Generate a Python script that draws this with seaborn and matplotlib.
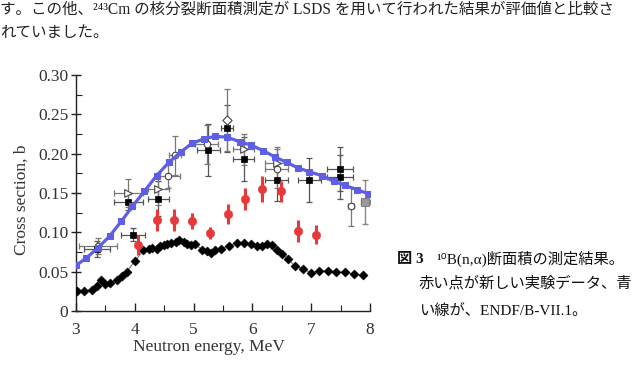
import matplotlib
matplotlib.use("Agg")
import matplotlib.pyplot as plt
import seaborn as sns
import pandas as pd
import numpy as np
from matplotlib.ticker import MultipleLocator, FuncFormatter

# ENDF/B-VII.1 evaluation (blue line with squares)
endf_E = [3.0, 3.17, 3.37, 3.57, 3.77, 3.96, 4.16, 4.37, 4.58, 4.78, 4.97, 5.18, 5.36,
          5.57, 5.79, 5.97, 6.18, 6.38, 6.58, 6.77, 6.97, 7.18, 7.38, 7.57, 7.78, 7.98]
endf_s = [0.058, 0.067, 0.080, 0.095, 0.114, 0.133, 0.152, 0.172, 0.189, 0.202, 0.213, 0.219, 0.222,
          0.221, 0.215, 0.211, 0.204, 0.196, 0.189, 0.182, 0.177, 0.172, 0.165, 0.160, 0.154, 0.149]

# older data set (black diamonds joined by a thin line)
old_E = [3.02, 3.14, 3.28, 3.35, 3.42, 3.50, 3.58, 3.70, 3.79, 3.86, 4.01, 4.14, 4.24, 4.30,
         4.37, 4.43, 4.49, 4.55, 4.62, 4.70, 4.76, 4.83, 4.89, 4.95, 5.03, 5.14, 5.22, 5.29,
         5.36, 5.46, 5.60, 5.74, 5.86, 5.97, 6.07, 6.17, 6.25, 6.33, 6.42, 6.50, 6.61, 6.72,
         6.86, 7.00, 7.13, 7.29, 7.43, 7.57, 7.72, 7.88]
old_s = [0.025, 0.026, 0.027, 0.032, 0.040, 0.034, 0.036, 0.039, 0.044, 0.050, 0.064, 0.077,
         0.079, 0.080, 0.079, 0.082, 0.084, 0.085, 0.086, 0.088, 0.090, 0.088, 0.085, 0.084,
         0.085, 0.078, 0.076, 0.074, 0.077, 0.079, 0.083, 0.086, 0.087, 0.085, 0.083, 0.082,
         0.085, 0.084, 0.078, 0.072, 0.066, 0.057, 0.054, 0.048, 0.051, 0.051, 0.050, 0.049,
         0.047, 0.046]

# new experimental data (red)
new_E = [4.06, 4.37, 4.67, 4.97, 5.28, 5.58, 5.87, 6.17, 6.49, 6.77, 7.08]
new_s = [0.084, 0.116, 0.116, 0.114, 0.099, 0.123, 0.142, 0.155, 0.152, 0.102, 0.097]
new_err = [0.013, 0.014, 0.014, 0.010, 0.008, 0.013, 0.014, 0.016, 0.013, 0.014, 0.012]

# other experiments: filled squares
sq_E = [3.35, 3.89, 3.97, 4.40, 5.25, 5.57, 5.85, 6.41, 6.97, 7.49, 7.49]
sq_s = [0.079, 0.139, 0.097, 0.143, 0.205, 0.232, 0.193, 0.1665, 0.1665, 0.181, 0.170]
sq_xerr = [0.22, 0.25, 0.20, 0.18, 0.20, 0.10, 0.18, 0.20, 0.19, 0.22, 0.22]
sq_yerr = [0.010, 0.010, 0.008, 0.022, 0.033, 0.030, 0.028, 0.027, 0.028, 0.028, 0.028]

# open circles
oc_E = [3.37, 4.57, 4.68, 5.22, 6.41, 7.68]
oc_s = [0.083, 0.171, 0.198, 0.212, 0.181, 0.133]
oc_xerr = [0.32, 0.20, 0.10, 0.20, 0.20, 0.05]
oc_yerr = [0.010, 0.015, 0.025, 0.025, 0.025, 0.025]

# open right triangles
tr_E = [3.89, 4.40, 5.85, 6.41]
tr_s = [0.150, 0.155, 0.2055, 0.188]
tr_xerr = [0.25, 0.18, 0.18, 0.20]
tr_yerr = [0.018, 0.020, 0.020, 0.020]

# open diamond
dm_E = [5.56]
dm_s = [0.243]
dm_yerr = [0.039]

# grey point at the right edge
gr_E = [7.92]
gr_s = [0.139]
gr_xerr = [0.08]
gr_yerr = [0.028]

x_ticks = [3, 4, 5, 6, 7, 8]
y_ticks = [0, 0.05, 0.10, 0.15, 0.20, 0.25, 0.30]

sns.set_style("white")
plt.rcParams['font.family'] = ['Liberation Serif', 'Noto Sans CJK JP', 'DejaVu Sans']

fig = plt.figure(figsize=(6.36, 3.71), dpi=100)
ax = fig.add_axes([76/636, 1 - 311/371, 294/636, 236/371])

txt = '#333333'
ebc = '#555555'

# older experiments with x & y error bars
ax.errorbar(sq_E, sq_s, xerr=sq_xerr, yerr=sq_yerr, fmt='none', ecolor=ebc, elinewidth=0.9,
            capsize=2, capthick=0.9, zorder=2)
ax.errorbar(oc_E, oc_s, xerr=oc_xerr, yerr=oc_yerr, fmt='none', ecolor='#777777', elinewidth=0.9,
            capsize=2, capthick=0.9, zorder=2)
ax.errorbar(tr_E, tr_s, xerr=tr_xerr, yerr=tr_yerr, fmt='none', ecolor='#777777', elinewidth=0.9,
            capsize=2, capthick=0.9, zorder=2)
ax.errorbar(dm_E, dm_s, yerr=dm_yerr, fmt='none', ecolor='#777777', elinewidth=0.9,
            capsize=2, capthick=0.9, zorder=2)
ax.errorbar(gr_E, gr_s, xerr=gr_xerr, yerr=gr_yerr, fmt='none', ecolor='#888888', elinewidth=1.0,
            capsize=2, capthick=1.0, linestyle=':', zorder=2)

df_sq = pd.DataFrame({'E': sq_E, 's': sq_s})
sns.scatterplot(data=df_sq, x='E', y='s', marker='s', s=14, color='black', edgecolor='black',
                linewidth=0.5, ax=ax, zorder=3)
df_oc = pd.DataFrame({'E': oc_E, 's': oc_s})
sns.scatterplot(data=df_oc, x='E', y='s', marker='o', s=22, facecolor='white', edgecolor='#444444',
                linewidth=0.8, ax=ax, zorder=3)
df_tr = pd.DataFrame({'E': tr_E, 's': tr_s})
sns.scatterplot(data=df_tr, x='E', y='s', marker='>', s=30, facecolor='white', edgecolor='#444444',
                linewidth=0.8, ax=ax, zorder=3)
df_dm = pd.DataFrame({'E': dm_E, 's': dm_s})
sns.scatterplot(data=df_dm, x='E', y='s', marker='D', s=22, facecolor='white', edgecolor='#444444',
                linewidth=0.8, ax=ax, zorder=3)
df_gr = pd.DataFrame({'E': gr_E, 's': gr_s})
sns.scatterplot(data=df_gr, x='E', y='s', marker='s', s=28, color='#999999', edgecolor='#666666',
                linewidth=0.5, ax=ax, zorder=3)

# older data (black diamonds)
df_old = pd.DataFrame({'E': old_E, 's': old_s})
sns.lineplot(data=df_old, x='E', y='s', color='#777777', linewidth=0.8, ax=ax, zorder=3,
             sort=False)
sns.scatterplot(data=df_old, x='E', y='s', marker='D', s=22, color='black', edgecolor='black',
                linewidth=0.3, ax=ax, zorder=4)

# ENDF/B-VII.1
df_endf = pd.DataFrame({'E': endf_E, 's': endf_s})
sns.lineplot(data=df_endf, x='E', y='s', color='#5f5fe6', linewidth=2.3, marker='s',
             markersize=5, markeredgecolor='#5f5fe6', ax=ax, zorder=5)

# new data (red)
ax.errorbar(new_E, new_s, yerr=new_err, fmt='none', ecolor='#e8393a', elinewidth=2.2,
            capsize=0, zorder=6)
df_new = pd.DataFrame({'E': new_E, 's': new_s})
sns.scatterplot(data=df_new, x='E', y='s', marker='o', s=38, color='#e8393a', edgecolor='#e8393a',
                linewidth=0.3, ax=ax, zorder=7)

ax.set_xlim(3, 8)
ax.set_ylim(0, 0.30)
ax.set_xticks(x_ticks)
ax.set_yticks(y_ticks)
ax.xaxis.set_minor_locator(MultipleLocator(0.5))
ax.yaxis.set_minor_locator(MultipleLocator(0.025))
ax.yaxis.set_major_formatter(FuncFormatter(lambda v, p: '0' if abs(v) < 1e-9 else f'{v:.2f}'))
ax.xaxis.set_major_formatter(FuncFormatter(lambda v, p: f'{int(round(v))}'))

for side in ['top', 'right']:
    ax.spines[side].set_visible(False)
for side in ['left', 'bottom']:
    ax.spines[side].set_color('#222222')
    ax.spines[side].set_linewidth(1.0)

ax.tick_params(axis='x', which='major', direction='in', length=6, width=1, color='#222222',
               labelsize=12.5, labelcolor=txt, pad=8)
ax.tick_params(axis='x', which='minor', direction='in', length=4, width=0.8, color='#222222')
ax.tick_params(axis='y', which='major', direction='inout', length=7, width=1, color='#222222',
               labelsize=12.5, labelcolor=txt, pad=2)
ax.tick_params(axis='y', which='minor', direction='in', length=4, width=0.8, color='#222222')
ax.tick_params(which='both', bottom=True, left=True)

ax.set_xlabel('Neutron energy, MeV', fontsize=12.5, color=txt)
ax.set_ylabel('Cross section, b', fontsize=12.5, color=txt)
ax.xaxis.set_label_coords(0.452, -0.119)
ax.yaxis.set_label_coords(-0.156, 0.47)
ax.set_facecolor('white')

fams = ['Liberation Serif', 'Noto Sans CJK JP', 'DejaVu Sans']
# body text at top
fig.text(0.0, 1 - 10/371, 'す。この他、²⁴³Cm の核分裂断面積測定が LSDS を用いて行われた結果が評価値と比較さ',
         fontsize=11.2, color='#222222', va='center', ha='left', family=fams)
fig.text(0.0, 1 - 33/371, 'れていました。', fontsize=11.2, color='#222222', va='center', ha='left',
         family=fams)

# caption
fig.text(397/636, 1 - 259/371, '図 3', fontsize=11, color='#111111', va='center', ha='left',
         family=fams, fontweight='bold')
fig.text(436/636, 1 - 259/371, '¹⁰B(n,α)断面積の測定結果。', fontsize=11, color='#111111',
         va='center', ha='left', family=fams)
fig.text(419/636, 1 - 283/371, '赤い点が新しい実験データ、青', fontsize=11, color='#111111',
         va='center', ha='left', family=fams)
fig.text(419/636, 1 - 311/371, 'い線が、ENDF/B-VII.1。', fontsize=11, color='#111111',
         va='center', ha='left', family=fams)

fig.savefig('out.png', dpi=100, facecolor='white')
